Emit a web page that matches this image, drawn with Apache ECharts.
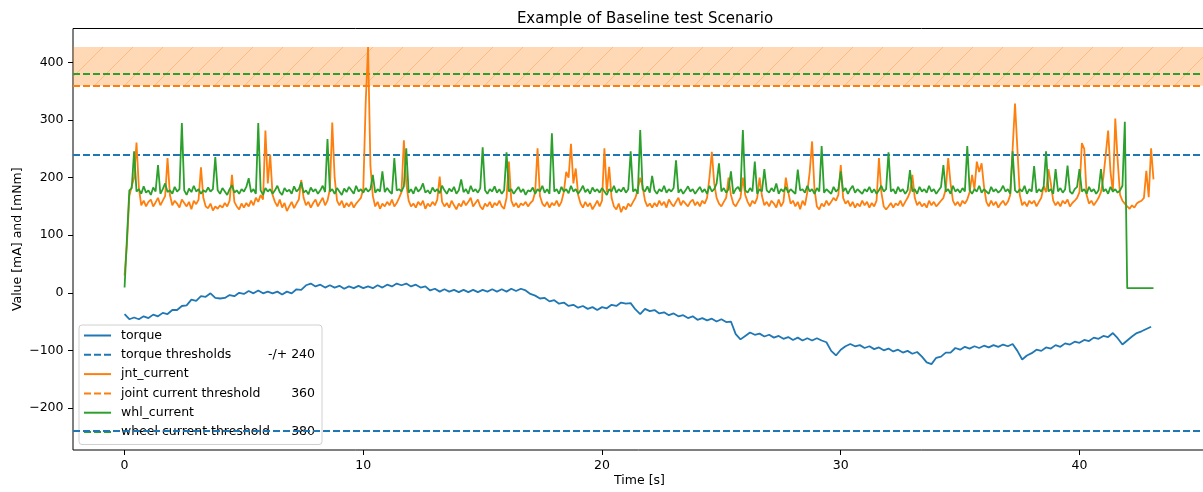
<!DOCTYPE html>
<html><head><meta charset="utf-8">
<script src="https://cdn.jsdelivr.net/npm/echarts@6/dist/echarts.min.js"></script>
<style>html,body{margin:0;padding:0;background:#fff}#c{width:1203px;height:492px}</style>
</head><body><div id="c"></div>
<script>
const chartTitle = 'Example of Baseline test Scenario';
const xLabel = 'Time [s]';
const yLabel = 'Value [mA] and [mNm]';
const xTicks = [0, 10, 20, 30, 40];
const yTicks = [-200, -100, 0, 100, 200, 300, 400];
const seriesNames = ['torque', 'torque thresholds', 'jnt_current', 'joint current threshold', 'whl_current', 'wheel current threshold'];
const torqueThreshold = 240;
const jointThreshold = 360;
const wheelThreshold = 380;

// sample timing of the logged signals
const currentStart = 0, currentStep = 0.1;
const torqueStart = 0, torqueStep = 0.2;

const torque = [
-37,-46,-43,-46,-41,-44,-38,-41,-35,-37,-30,-30,-23,-22,-12,-14,-6,-7,-1,-9,
-10,-9,-4,-6,0,-2,3,-1,4,-1,2,-1,2,-3,2,-1,6,5,13,16,
11,14,9,13,9,12,7,11,8,12,8,11,8,13,9,14,11,16,13,16,
11,14,9,11,4,7,2,6,2,5,1,5,1,5,1,5,2,6,2,6,
2,7,3,7,4,-2,-5,-10,-9,-15,-13,-19,-17,-23,-21,-26,-23,-28,-25,-30,
-25,-27,-21,-23,-17,-19,-18,-29,-37,-28,-32,-30,-36,-34,-39,-36,-41,-39,-44,-41,
-47,-44,-48,-45,-50,-46,-51,-50,-72,-81,-75,-69,-73,-71,-76,-73,-78,-75,-80,-77,
-82,-78,-83,-79,-83,-79,-83,-86,-101,-109,-99,-93,-89,-93,-91,-96,-93,-98,-95,-100,
-97,-102,-99,-104,-101,-106,-103,-111,-121,-124,-113,-111,-104,-104,-96,-99,-94,-97,-93,-96,
-92,-95,-91,-94,-90,-93,-89,-101,-116,-109,-105,-99,-101,-95,-97,-91,-94,-88,-90,-85,
-87,-82,-84,-78,-80,-75,-77,-70,-79,-90,-83,-76,-70,-67,-63,-59
];

const jntCurrent = [
30,85,168,185,200,261,182,152,160,150,
158,162,150,157,165,152,160,168,234,170,
152,160,155,148,162,156,150,158,145,160,
154,162,218,165,150,147,155,143,150,146,
152,148,156,150,160,205,158,150,145,155,
148,156,150,160,152,165,158,170,162,282,
190,240,170,158,150,162,148,156,142,150,
158,147,155,162,196,165,152,158,148,156,
162,150,158,165,152,160,180,296,200,160,
152,160,148,156,150,158,148,155,160,165,
180,330,427,220,168,150,158,146,155,150,
158,152,162,150,156,165,175,265,190,160,
150,155,148,158,152,160,146,155,150,158,
152,162,202,158,150,156,148,160,152,145,
155,150,160,152,158,165,150,156,162,150,
145,155,150,158,148,156,152,160,150,146,
165,228,160,150,156,148,155,152,158,150,
156,160,175,251,168,155,150,158,148,156,
152,160,150,158,175,210,200,259,190,216,
170,155,148,158,150,156,145,152,160,150,
160,251,175,219,165,150,145,155,140,150,
145,155,150,158,165,180,200,185,160,150,
155,148,156,150,160,152,158,148,162,155,
150,158,165,152,160,155,150,158,162,152,
158,150,160,155,165,200,245,190,165,155,
150,158,165,200,170,155,150,158,165,200,
170,158,150,160,155,165,200,168,152,158,
150,160,155,148,162,150,158,200,175,155,
160,150,158,145,160,152,175,210,263,180,
150,145,155,150,160,152,158,165,160,170,
222,165,155,160,150,158,148,155,150,160,
152,158,148,156,150,160,234,175,150,145,
150,156,148,155,152,160,150,158,165,175,
205,165,152,158,150,155,148,160,152,158,
150,155,160,165,180,234,190,160,152,158,
150,160,155,162,175,205,180,228,210,225,
185,158,150,160,152,158,148,155,160,152,
158,170,250,329,250,170,152,158,150,160,
155,160,150,158,165,185,175,215,190,160,
152,158,150,160,155,162,150,156,160,165,
175,260,250,170,155,160,152,158,165,175,
200,240,282,210,175,303,230,170,160,155,
150,146,152,148,155,158,160,165,212,166,
251,197
];

const whlCurrent = [
9,95,178,182,246,176,180,172,185,174,
178,170,183,176,222,172,180,190,175,178,
172,184,176,180,295,178,170,181,175,186,
176,180,172,178,175,183,176,180,236,178,
172,182,176,170,180,187,174,178,172,180,
176,184,199,175,180,172,295,178,170,182,
176,180,172,178,186,175,170,182,176,179,
172,185,176,180,192,174,178,171,183,176,
180,172,178,186,175,267,176,180,172,182,
176,170,181,175,184,178,172,186,176,180,
174,182,176,180,205,174,180,176,211,175,
182,176,172,234,178,180,176,185,251,174,
180,172,184,176,180,190,174,178,172,183,
176,180,173,186,178,172,181,176,184,172,
178,197,175,180,172,186,176,180,174,182,
253,178,172,180,176,185,174,180,172,178,
244,176,180,172,178,184,175,180,170,178,
176,183,172,180,176,186,174,180,172,277,
176,180,172,184,176,180,173,186,176,180,
172,178,186,175,180,172,183,176,180,174,
182,176,170,180,176,186,174,180,176,183,
174,180,246,176,180,172,283,180,176,185,
174,203,178,172,180,176,186,174,180,176,
182,230,174,180,172,178,185,176,180,172,
178,184,175,180,172,186,176,180,190,225,
176,182,174,180,211,172,180,184,176,283,
178,174,182,176,228,172,180,176,215,178,
174,182,176,190,172,180,176,184,174,180,
176,172,214,178,180,174,186,176,180,172,
182,176,255,174,180,176,172,184,176,180,
211,176,182,172,180,186,174,180,176,172,
180,176,184,174,180,172,178,186,176,180,
244,176,180,172,184,176,180,172,178,213,
176,180,172,184,176,180,174,186,176,180,
172,178,184,222,176,180,172,186,176,180,
174,182,176,255,178,172,180,176,186,174,
180,176,172,184,176,180,174,178,186,176,
180,172,246,178,174,180,176,186,172,180,
176,220,174,180,176,184,246,176,180,172,
215,176,182,174,180,221,176,172,180,184,
215,176,180,172,184,176,180,172,178,215,
176,180,172,184,176,180,174,178,186,297,
8,8,8,8,8,8,8,8,8,8,
8,8
];

const C_BLUE = '#1f77b4', C_ORANGE = '#ff7f0e', C_GREEN = '#2ca02c';
const FONT = 'DejaVu Sans';
const DASH = [7, 3];
const LW = 1.8;

function pairs(values, start, step) {
  return values.map((v, i) => [+(start + i * step).toFixed(3), v]);
}
const bandTop = Math.max.apply(null, jntCurrent);

const legendValues = {
  'torque thresholds': '-/+ ' + torqueThreshold,
  'joint current threshold': String(jointThreshold),
  'wheel current threshold': String(wheelThreshold)
};

// hatch pattern tile
const tile = document.createElement('canvas');
tile.width = 30; tile.height = 30;
const g = tile.getContext('2d');
g.fillStyle = 'rgba(255,127,14,0.3)';
g.fillRect(0, 0, 30, 30);
g.strokeStyle = 'rgba(255,127,14,0.32)';
g.lineWidth = 1;
g.beginPath();
g.moveTo(-5, 35); g.lineTo(35, -5);
g.moveTo(-5, 5); g.lineTo(5, -5);
g.moveTo(25, 35); g.lineTo(35, 25);
g.stroke();

const chart = echarts.init(document.getElementById('c'), null, {renderer: 'canvas'});
const fmtMinus = v => (v < 0 ? '\u2212' + Math.abs(v) : String(v));

function hline(name, color, values) {
  return {
    name: name, type: 'line', data: [], symbol: 'none',
    lineStyle: {color: color, width: LW, type: DASH},
    itemStyle: {color: color},
    z: 4,
    markLine: {
      silent: true, symbol: ['none', 'none'], animation: false,
      label: {show: false},
      lineStyle: {color: color, width: LW, type: DASH},
      emphasis: {disabled: true},
      data: values.map(v => ({yAxis: v}))
    }
  };
}
function sline(name, color, data, z) {
  return {
    name: name, type: 'line', data: data, symbol: 'none', showSymbol: false,
    lineStyle: {color: color, width: LW}, itemStyle: {color: color},
    z: z, emphasis: {disabled: true}
  };
}

chart.setOption({
  animation: false,
  backgroundColor: '#ffffff',
  title: {
    text: chartTitle, left: 640, top: 7, textAlign: 'center',
    textStyle: {fontFamily: FONT, fontSize: 15, fontWeight: 'normal', color: '#000'}
  },
  grid: {left: 73, right: -3, top: 28.5, bottom: 42, outerBoundsMode: 'none', containLabel: false,
         show: true, borderColor: '#000', borderWidth: 1, backgroundColor: 'transparent'},
  legend: {
    orient: 'vertical', left: 79, top: 325,
    padding: [4, 7, 6, 4],
    itemWidth: 27, itemHeight: 14, itemGap: 6.3,
    backgroundColor: 'rgba(255,255,255,0.8)',
    borderColor: '#d0d0d0', borderWidth: 1, borderRadius: 3,
    data: seriesNames,
    selectedMode: false,
    itemStyle: {opacity: 0},
    formatter: name => '{a|' + name + '}{b|' + (legendValues[name] || '') + '}',
    textStyle: {
      fontFamily: FONT, fontSize: 12.5, color: '#000',
      rich: {
        a: {fontFamily: FONT, fontSize: 12.5, color: '#000', width: 150, padding: [0, 0, 0, 5]},
        b: {fontFamily: FONT, fontSize: 12.5, color: '#000', width: 44, align: 'right'}
      }
    }
  },
  xAxis: {
    type: 'value', min: -2.16, max: 45.3,
    name: xLabel, nameLocation: 'middle', nameGap: 24, nameMoveOverlap: false,
    nameTextStyle: {fontFamily: FONT, fontSize: 12.5, color: '#000'},
    axisLine: {show: false, onZero: false},
    axisTick: {show: true, customValues: xTicks, length: 5, lineStyle: {color: '#000', width: 1}},
    axisLabel: {customValues: xTicks, margin: 9, fontFamily: FONT, fontSize: 12.5, color: '#000', formatter: fmtMinus},
    splitLine: {show: false}
  },
  yAxis: {
    type: 'value', min: -273.3, max: 459.3,
    name: yLabel, nameLocation: 'middle', nameGap: 49, nameMoveOverlap: false,
    nameTextStyle: {fontFamily: FONT, fontSize: 12.5, color: '#000'},
    axisLine: {show: false, onZero: false},
    axisTick: {show: true, customValues: yTicks, length: 5, lineStyle: {color: '#000', width: 1}},
    axisLabel: {customValues: yTicks, margin: 9.5, fontFamily: FONT, fontSize: 12.5, color: '#000', formatter: fmtMinus},
    splitLine: {show: false}
  },
  series: [
    {
      name: 'band', type: 'line', data: [], z: 1, silent: true,
      markArea: {
        silent: true,
        itemStyle: {color: {image: tile, repeat: 'repeat'}, borderWidth: 0},
        emphasis: {disabled: true},
        label: {show: false},
        data: [[{yAxis: jointThreshold}, {yAxis: bandTop}]]
      }
    },
    sline('torque', C_BLUE, pairs(torque, torqueStart, torqueStep), 3),
    hline('torque thresholds', C_BLUE, [torqueThreshold, -torqueThreshold]),
    sline('jnt_current', C_ORANGE, pairs(jntCurrent, currentStart, currentStep), 5),
    hline('joint current threshold', C_ORANGE, [jointThreshold]),
    sline('whl_current', C_GREEN, pairs(whlCurrent, currentStart, currentStep), 6),
    hline('wheel current threshold', C_GREEN, [wheelThreshold])
  ]
});
</script>
</body></html>
